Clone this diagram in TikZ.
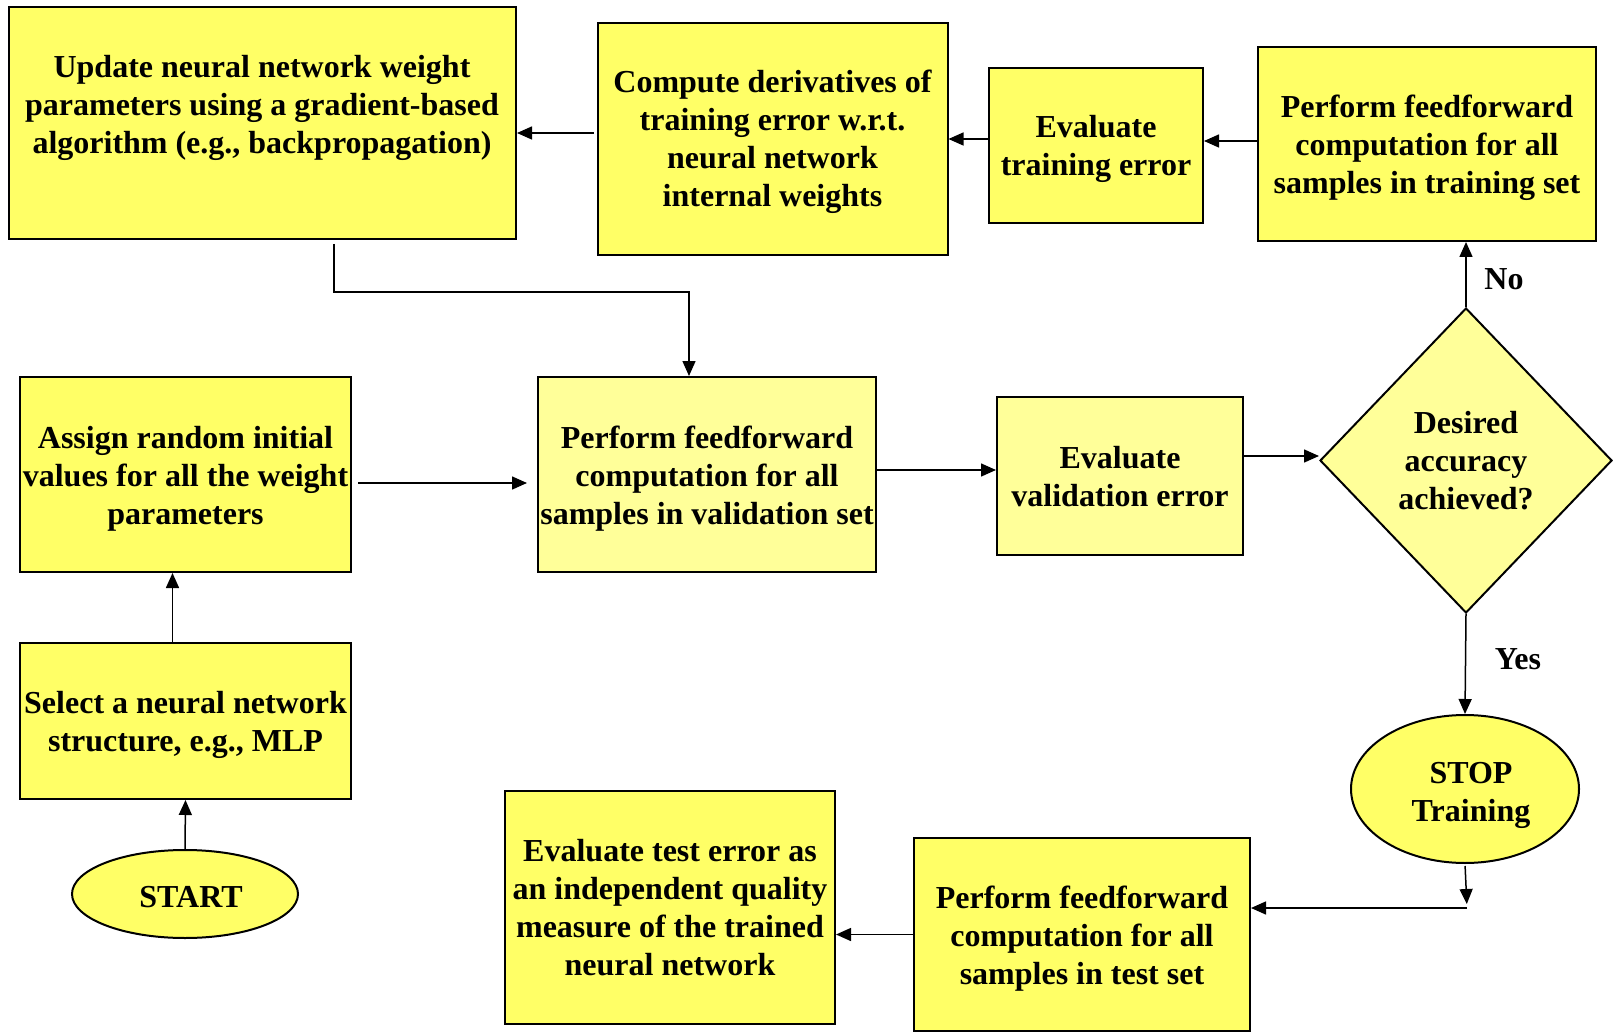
\documentclass[tikz,border=0pt]{standalone}
\usepackage{fontspec}
\setmainfont{Liberation Serif}
\usetikzlibrary{shapes.geometric,arrows.meta}
\definecolor{yel}{HTML}{FFFF66}
\definecolor{lyel}{HTML}{FFFF99}
\begin{document}
\begin{tikzpicture}[x=1pt,y=-1pt,
  every node/.style={font=\fontsize{32}{38}\selectfont\bfseries, align=center, inner sep=0pt},
  box/.style={draw=black, line width=2pt, fill=yel, rectangle},
  lbox/.style={box, fill=lyel},
  oval/.style={draw=black, line width=2pt, fill=yel, ellipse},
  arr/.style={line width=1.5pt, -{Triangle[length=15pt,width=13pt]}}]
\useasboundingbox (0,0) rectangle (1617,1032);
% boxes
\node[box, minimum width=507pt, minimum height=232pt] (upd) at (262.5,123) {};
\node (updt) at (262,108) {Update neural network weight\\parameters using a gradient-based\\algorithm (e.g., backpropagation)};
\node[box, minimum width=350pt, minimum height=232pt] (comp) at (772.5,139) {};
\node (compt) at (772.5,142) {Compute derivatives of\\training error w.r.t.\\neural network\\internal weights};
\node[box, minimum width=214pt, minimum height=155pt] (evtr) at (1096,145.5) {};
\node (evtrt) at (1096,148.5) {Evaluate\\training error};
\node[box, minimum width=338pt, minimum height=194pt] (ptr) at (1427,144) {};
\node (ptrt) at (1427,148) {Perform feedforward\\computation for all\\samples in training set};
\node[box, minimum width=331pt, minimum height=195pt] (assign) at (185.5,474.5) {};
\node (assignt) at (185.5,478.5) {Assign random initial\\values for all the weight\\parameters};
\node[lbox, minimum width=338pt, minimum height=195pt] (val) at (707,474.5) {};
\node (valt) at (707,478.5) {Perform feedforward\\computation for all\\samples in validation set};
\node[lbox, minimum width=246pt, minimum height=158pt] (evval) at (1120,476) {};
\node (evvalt) at (1120,477) {Evaluate\\validation error};
\node[draw=black, line width=2pt, fill=lyel, diamond, minimum width=292pt, minimum height=305pt] (dia) at (1466,460.5) {Desired\\accuracy\\achieved?};
\node[box, minimum width=331pt, minimum height=156pt] (select) at (185.5,721) {};
\node (selectt) at (185.5,725) {Select a neural network\\structure, e.g., MLP};
\node[oval, minimum width=226pt, minimum height=88pt] (start) at (185,894) {};
\node (startt) at (191,897) {START};
\node[oval, minimum width=228pt, minimum height=148pt] (stop) at (1465,789) {};
\node (stopt) at (1471,795) {STOP\\Training};
\node[box, minimum width=330pt, minimum height=233pt] (teval) at (670,907.5) {};
\node (tevalt) at (670,907.5) {Evaluate test error as\\an independent quality\\measure of the trained\\neural network};
\node[box, minimum width=336pt, minimum height=193pt] (tperf) at (1082,934.5) {};
\node (tperft) at (1082,938.5) {Perform feedforward\\computation for all\\samples in test set};
% labels
\node (no) at (1504,279) {No};
\node (yes) at (1518,659) {Yes};
% connectors
\draw[arr] (start.north) -- (select.south);
\draw[arr] ([xshift=-13pt]select.north) -- ([xshift=-13pt]assign.south);
\draw[arr, shorten <=6pt, shorten >=10pt] ([yshift=-8.5pt]assign.east) -- ([yshift=-8.5pt]assign.east -| val.west);
\draw[arr] ([yshift=4.5pt]val.east) -- ([yshift=4.5pt]val.east -| evval.west);
\draw[arr] ([yshift=20pt]evval.east) -- ([yshift=20pt]evval.east -| dia.west);
\draw[arr] (dia.north) -- (dia.north |- ptr.south);
\draw[arr] ([yshift=3pt]ptr.west) -- ([yshift=3pt]ptr.west -| evtr.east);
\draw[arr] ([yshift=6.5pt]evtr.west) -- ([yshift=6.5pt]evtr.west -| comp.east);
\draw[arr, shorten <=3pt] ([yshift=6pt]comp.west) -- ([yshift=6pt]comp.west -| upd.east);
\coordinate (k1) at (689,292);
\draw[arr] ([xshift=71.5pt,yshift=-4pt]upd.south) |- (k1) -- (k1 |- val.north);
\draw[arr] (dia.south) -- (stop.north);
\coordinate (k2) at (1467,908);
\draw[arr, shorten <=2pt, shorten >=4pt] (stop.south) -- (k2);
\draw[arr] (k2) -- (k2 -| tperf.east);
\draw[arr] (tperf.west) -- (tperf.west -| teval.east);
\end{tikzpicture}
\end{document}
